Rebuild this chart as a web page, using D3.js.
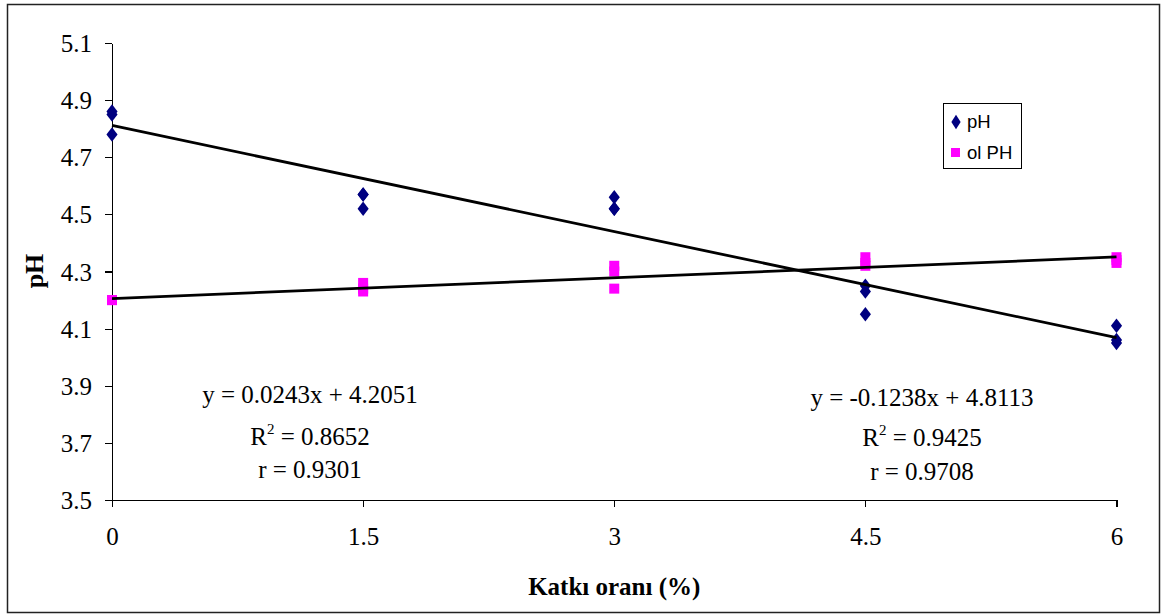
<!DOCTYPE html>
<html>
<head>
<meta charset="utf-8">
<script src="https://cdn.jsdelivr.net/npm/d3@7"></script>
<style>
  html, body { margin: 0; padding: 0; background: #fff; }
  svg { display: block; }
</style>
</head>
<body>
<svg id="chart" width="1162" height="615"></svg>
<script>
// Additive ratio levels (%) and three replicate readings per level
const levels = [0, 1.5, 3, 4.5, 6];
const phValues = [
  [4.86, 4.85, 4.78],
  [4.57, 4.57, 4.52],
  [4.56, 4.52, 4.52],
  [4.25, 4.23, 4.15],
  [4.11, 4.06, 4.05]
];
const olPhValues = [
  [4.20, 4.20, 4.20],
  [4.26, 4.23, 4.24],
  [4.32, 4.30, 4.24],
  [4.35, 4.32, 4.33],
  [4.34, 4.35, 4.33]
];
// Linear trend coefficients [slope, intercept] with fit statistics
const olPhFit = { slope: 0.0243, intercept: 4.2051, r2: "0.8652", r: "0.9301" };
const phFit = { slope: -0.1238, intercept: 4.8113, r2: "0.9425", r: "0.9708" };
const yTicks = [3.5, 3.7, 3.9, 4.1, 4.3, 4.5, 4.7, 4.9, 5.1];
const xTicks = [0, 1.5, 3, 4.5, 6];

const svg = d3.select("#chart");
const serif = "'Liberation Serif', 'Times New Roman', serif";
const sans = "'Liberation Sans', Arial, sans-serif";

// Outer frame
svg.append("rect")
  .attr("x", 7.5).attr("y", 4.5).attr("width", 1152).attr("height", 608)
  .attr("fill", "#fff").attr("stroke", "#222").attr("stroke-width", 1.5);

const x = d3.scaleLinear().domain([0, 6]).range([112, 1116.5]);
const y = d3.scaleLinear().domain([3.5, 5.1]).range([500, 43]);

// Axes
const yAxis = svg.append("g").attr("transform", `translate(${x(0)},0)`)
  .call(d3.axisLeft(y).tickValues(yTicks).tickSize(7).tickSizeOuter(0).tickPadding(13)
    .tickFormat(d => d3.format(".1f")(d)));
const xAxis = svg.append("g").attr("transform", `translate(0,${y(3.5)})`)
  .call(d3.axisBottom(x).tickValues(xTicks).tickSize(7).tickSizeOuter(0).tickPadding(20)
    .tickFormat(d => String(d)));

[yAxis, xAxis].forEach(g => {
  g.selectAll("path, line").attr("stroke", "#000").attr("stroke-width", 1.2).attr("shape-rendering", "crispEdges");
  g.selectAll("text").attr("font-family", serif).attr("font-size", 25).attr("fill", "#000");
});
yAxis.selectAll("text").attr("dy", "0.34em");

// Axis titles
svg.append("text")
  .attr("x", x(3)).attr("y", 595)
  .attr("text-anchor", "middle")
  .attr("font-family", serif).attr("font-weight", "bold").attr("font-size", 25)
  .text("Katkı oranı (%)");
svg.append("text")
  .attr("transform", "translate(43,271) rotate(-90)")
  .attr("text-anchor", "middle")
  .attr("font-family", serif).attr("font-weight", "bold").attr("font-size", 26)
  .text("pH");

// Scatter points
const diamond = d3.symbol().type(d3.symbolDiamond).size(75);
const flat = (vals) => levels.flatMap((lv, i) => vals[i].map(v => ({ x: lv, y: v })));

svg.append("g").selectAll("path")
  .data(flat(phValues)).join("path")
  .attr("d", diamond)
  .attr("transform", d => `translate(${x(d.x)},${y(d.y)}) scale(1.2,0.9)`)
  .attr("fill", "#000080");

svg.append("g").selectAll("rect")
  .data(flat(olPhValues)).join("rect")
  .attr("x", d => x(d.x) - 5).attr("y", d => y(d.y) - 5)
  .attr("width", 10).attr("height", 10)
  .attr("fill", "#ff00ff");

// Trend lines
const trend = d3.line().x(d => x(d[0])).y(d => y(d[1]));
[olPhFit, phFit].forEach(f => {
  svg.append("path")
    .attr("d", trend([0, 6].map(v => [v, f.slope * v + f.intercept])))
    .attr("fill", "none").attr("stroke", "#000").attr("stroke-width", 2.8);
});

// Equation annotations
function eqBlock(cx, baselines, f) {
  const g = svg.append("g").attr("font-family", serif).attr("font-size", 25).attr("fill", "#000").attr("text-anchor", "middle");
  const sign = f.intercept >= 0 ? "+" : "-";
  g.append("text").attr("x", cx).attr("y", baselines[0])
    .text(`y = ${f.slope.toFixed(4)}x ${sign} ${Math.abs(f.intercept).toFixed(4)}`);
  const t2 = g.append("text").attr("x", cx).attr("y", baselines[1]);
  t2.append("tspan").text("R");
  t2.append("tspan").attr("font-size", 15).attr("dy", -11).text("2");
  t2.append("tspan").attr("dy", 11).text(` = ${f.r2}`);
  g.append("text").attr("x", cx).attr("y", baselines[2]).text(`r = ${f.r}`);
}
eqBlock(310, [403, 445, 478], olPhFit);
eqBlock(922, [406, 446, 480], phFit);

// Legend
const lg = svg.append("g");
lg.append("rect").attr("x", 943.5).attr("y", 103.5).attr("width", 78).attr("height", 65)
  .attr("fill", "#fff").attr("stroke", "#000").attr("stroke-width", 1);
lg.append("path").attr("d", diamond)
  .attr("transform", "translate(956,122) scale(1.0,0.9)").attr("fill", "#000080");
lg.append("rect").attr("x", 951).attr("y", 148).attr("width", 9).attr("height", 9).attr("fill", "#ff00ff");
lg.append("text").attr("x", 967).attr("y", 128).attr("font-family", sans).attr("font-size", 18.5).text("pH");
lg.append("text").attr("x", 967).attr("y", 159).attr("font-family", sans).attr("font-size", 18.5).text("ol PH");
</script>
</body>
</html>
